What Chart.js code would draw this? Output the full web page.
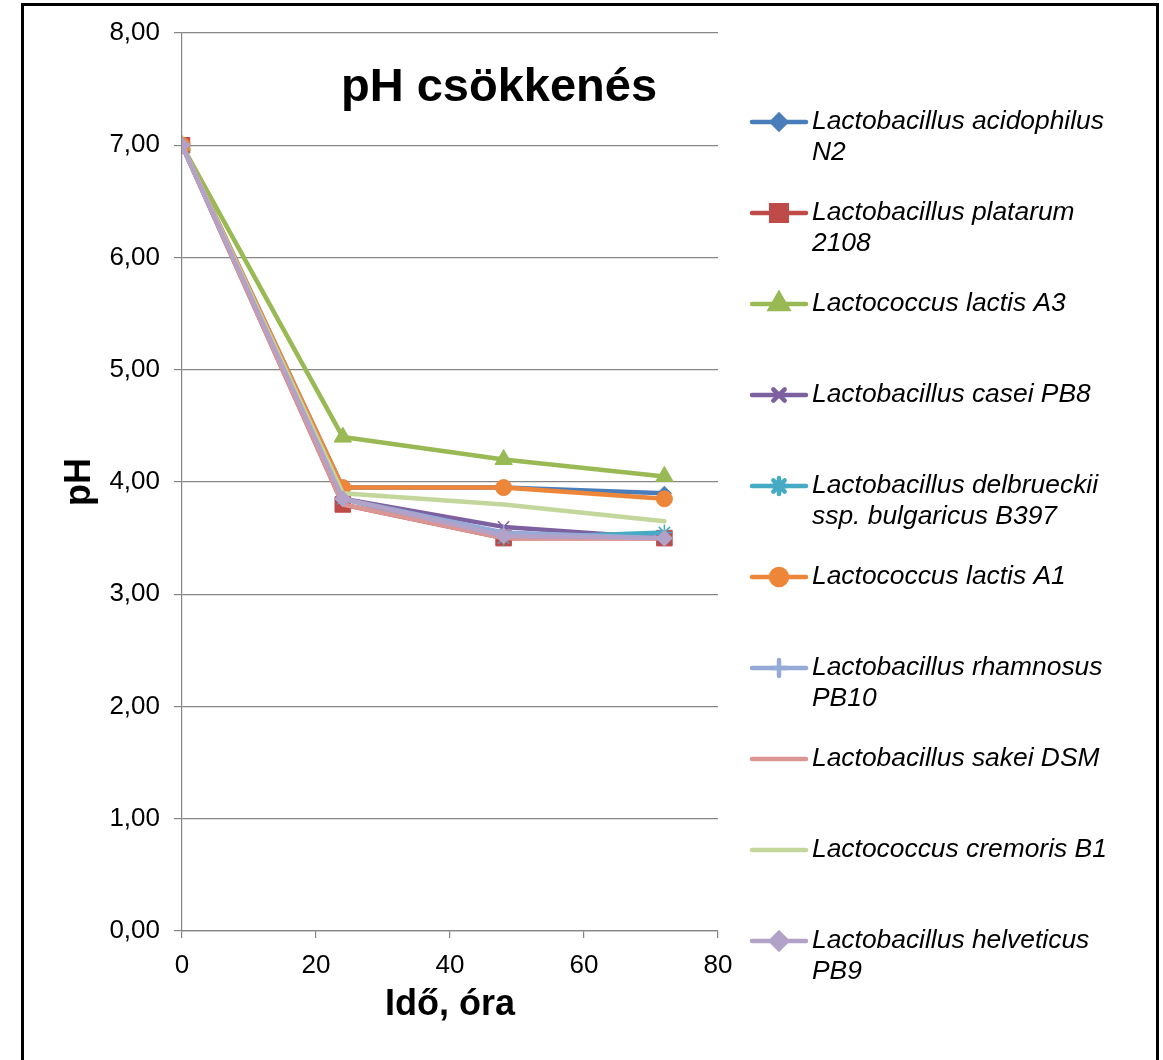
<!DOCTYPE html>
<html lang="hu">
<head>
<meta charset="utf-8">
<title>pH csökkenés</title>
<script src="https://cdn.jsdelivr.net/npm/chart.js@4/dist/chart.umd.min.js"></script>
<style>
  html, body { margin: 0; padding: 0; background: #ffffff; }
  #wrap { width: 1163px; height: 1060px; }
</style>
</head>
<body>
<div id="wrap"><canvas id="ph" width="1163" height="1060"></canvas></div>
<script>
// Mintavételi időpontok (óra)
const hours = [0, 24, 48, 72];

// pH értékek törzsenként
const acidophilusN2   = [7.00, 3.95, 3.95, 3.90];
const plantarum2108   = [7.00, 3.80, 3.50, 3.50];
const lactisA3        = [7.00, 4.40, 4.20, 4.05];
const caseiPB8        = [7.00, 3.85, 3.60, 3.50];
const delbrueckiiB397 = [7.00, 3.85, 3.50, 3.55];
const lactisA1        = [7.00, 3.95, 3.95, 3.85];
const rhamnosusPB10   = [7.00, 3.85, 3.55, 3.50];
const sakeiDSM        = [7.00, 3.80, 3.50, 3.50];
const cremorisB1      = [7.00, 3.90, 3.80, 3.65];
const helveticusPB9   = [7.00, 3.85, 3.52, 3.50];

// Jelmagyarázat szövegei (sortöréssel)
const seriesNames = [
  ["Lactobacillus acidophilus", "N2"],
  ["Lactobacillus platarum", "2108"],
  ["Lactococcus lactis A3"],
  ["Lactobacillus casei PB8"],
  ["Lactobacillus delbrueckii", "ssp. bulgaricus B397"],
  ["Lactococcus lactis A1"],
  ["Lactobacillus rhamnosus", "PB10"],
  ["Lactobacillus sakei DSM"],
  ["Lactococcus cremoris B1"],
  ["Lactobacillus helveticus", "PB9"]
];

const seriesValues = [acidophilusN2, plantarum2108, lactisA3, caseiPB8, delbrueckiiB397,
                      lactisA1, rhamnosusPB10, sakeiDSM, cremorisB1, helveticusPB9];

const chartTitle = "pH csökkenés";
const xTitle = "Idő, óra";
const yTitle = "pH";

// Megjelenés
const colors = ["#4a7ebb", "#be4b48", "#98b954", "#7d60a0", "#46aac5",
                "#ee8639", "#95aad6", "#d99694", "#c3d69b", "#b3a2c7"];
const markers = [
  { style: "rectRot",  radius: 7,  border: 1 },
  { style: "rect",     radius: 11, border: 1 },
  { style: "triangle", radius: 10, border: 1 },
  { style: "crossRot", radius: 8,  border: 1.5 },
  { style: "star",     radius: 8,  border: 1.5 },
  { style: "circle",   radius: 8,  border: 1 },
  { style: "cross",    radius: 8,  border: 1.5 },
  { style: false,      radius: 0,  border: 0 },
  { style: false,      radius: 0,  border: 0 },
  { style: "rectRot",  radius: 8,  border: 1 }
];

const FONT = "'Liberation Sans', Arial, sans-serif";
const AREA = { left: 182, right: 718, top: 33, bottom: 931 };
const W = 1163, H = 1060;

const datasets = seriesValues.map((vals, i) => ({
  label: seriesNames[i].join(" "),
  data: hours.map((h, j) => ({ x: h, y: vals[j] })),
  borderColor: colors[i],
  backgroundColor: colors[i],
  borderWidth: 4.5,
  borderCapStyle: "round",
  borderJoinStyle: "round",
  pointStyle: markers[i].style || "circle",
  pointRadius: markers[i].radius,
  pointHoverRadius: markers[i].radius,
  pointBorderWidth: markers[i].border,
  pointBorderColor: colors[i],
  pointBackgroundColor: colors[i],
  tension: 0,
  order: seriesValues.length - i
}));

// Keret és háttér
const framePlugin = {
  id: "frame",
  beforeDraw(chart) {
    const ctx = chart.ctx;
    ctx.save();
    ctx.fillStyle = "#ffffff";
    ctx.fillRect(0, 0, W, H);
    ctx.strokeStyle = "#000000";
    ctx.lineWidth = 3;
    ctx.strokeRect(22.5, 4.5, 1135, H + 20);
    ctx.restore();
  }
};

// Cím a rajzterületen belül
const titlePlugin = {
  id: "innerTitle",
  afterDraw(chart) {
    const ctx = chart.ctx;
    ctx.save();
    ctx.fillStyle = "#000000";
    ctx.font = "bold 47px " + FONT;
    ctx.textAlign = "center";
    ctx.textBaseline = "alphabetic";
    ctx.fillText(chartTitle, 499, 101);
    ctx.restore();
  }
};

// Jelmagyarázat a jobb oldalon, többsoros feliratokkal
const legendPlugin = {
  id: "sideLegend",
  afterDraw(chart) {
    const ctx = chart.ctx;
    const x0 = 752, x1 = 806, tx = 812;
    const top = 122, step = 91, lineGap = 31;
    ctx.save();
    seriesNames.forEach((lines, i) => {
      const y = top + i * step;
      ctx.strokeStyle = colors[i];
      ctx.lineWidth = 4.5;
      ctx.lineCap = "round";
      ctx.beginPath();
      ctx.moveTo(x0, y);
      ctx.lineTo(x1, y);
      ctx.stroke();
      if (markers[i].style) {
        ctx.fillStyle = colors[i];
        ctx.strokeStyle = colors[i];
        Chart.helpers.drawPoint(ctx, {
          pointStyle: markers[i].style,
          radius: markers[i].radius,
          rotation: 0,
          borderWidth: markers[i].border
        }, (x0 + x1) / 2, y);
      }
      ctx.fillStyle = "#000000";
      ctx.font = "italic 26.4px " + FONT;
      ctx.textAlign = "left";
      ctx.textBaseline = "middle";
      lines.forEach((t, k) => ctx.fillText(t, tx, y + k * lineGap));
    });
    ctx.restore();
  }
};

const gridColor = "#868686";
const fmt = v => v.toFixed(2).replace(".", ",");

new Chart(document.getElementById("ph"), {
  type: "line",
  data: { datasets },
  plugins: [framePlugin, titlePlugin, legendPlugin],
  options: {
    responsive: false,
    animation: false,
    events: [],
    layout: { padding: { left: 0, top: AREA.top, right: W - AREA.right, bottom: 0 } },
    plugins: { legend: { display: false }, title: { display: false }, tooltip: { enabled: false } },
    scales: {
      x: {
        type: "linear",
        min: 0, max: 80,
        ticks: { stepSize: 20, color: "#000000", font: { family: FONT, size: 26 }, padding: 12, maxRotation: 0 },
        grid: { drawOnChartArea: false, drawTicks: true, tickLength: 7, color: gridColor, lineWidth: 1.2 },
        border: { display: true, color: gridColor, width: 1.2 },
        title: { display: true, text: xTitle, color: "#000000", font: { family: FONT, size: 36, weight: "bold" }, padding: { top: 0, bottom: 33 } },
        afterFit(scale) { scale.height = H - AREA.bottom; }
      },
      y: {
        type: "linear",
        min: 0, max: 8,
        ticks: { stepSize: 1, color: "#000000", font: { family: FONT, size: 26 }, padding: 14, callback: v => fmt(v) },
        grid: { drawTicks: true, tickLength: 8, color: gridColor, lineWidth: 1.2 },
        border: { display: true, color: gridColor, width: 1.2 },
        title: { display: true, text: yTitle, color: "#000000", font: { family: FONT, size: 36, weight: "bold" }, padding: { top: 58, bottom: 0 } },
        afterFit(scale) { scale.width = AREA.left; }
      }
    }
  }
});
</script>
</body>
</html>
